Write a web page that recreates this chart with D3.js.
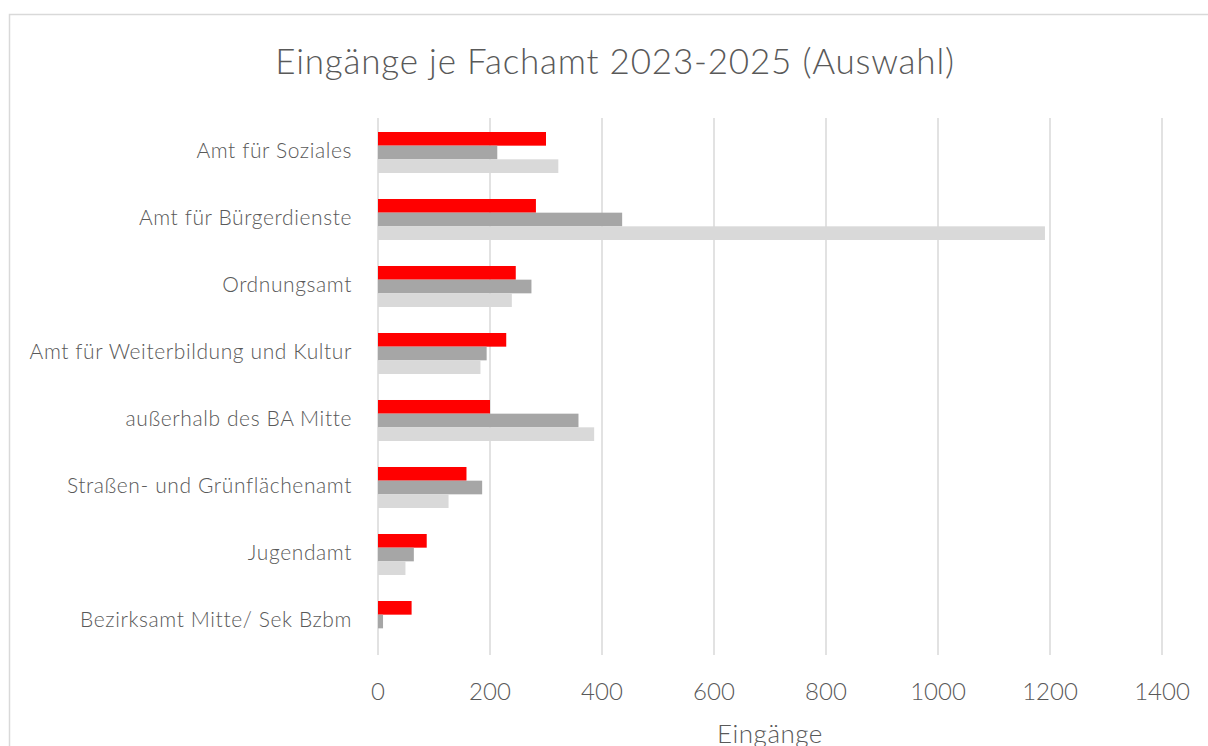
<!DOCTYPE html>
<html>
<head>
<meta charset="utf-8">
<script src="https://cdn.jsdelivr.net/npm/d3@7"></script>
<style>
  html, body { margin: 0; padding: 0; background: #fff; overflow: hidden; }
  svg { display: block; }
  text { font-family: Lato, "Noto Sans", sans-serif; font-weight: 300; fill: #595959; }
</style>
</head>
<body>
<svg id="chart" width="1208" height="746"></svg>
<script>
const categories = [
  "Amt für Soziales",
  "Amt für Bürgerdienste",
  "Ordnungsamt",
  "Amt für Weiterbildung und Kultur",
  "außerhalb des BA Mitte",
  "Straßen- und Grünflächenamt",
  "Jugendamt",
  "Bezirksamt Mitte/ Sek Bzbm"
];
const seriesNames = ["2025", "2024", "2023"];
const values2025 = [300, 282, 246, 229, 200, 158, 87, 60];
const values2024 = [213, 436, 274, 194, 358, 186, 64, 9];
const values2023 = [322, 1191, 239, 183, 386, 126, 49, 0];
const seriesColors = ["#ff0000", "#a6a6a6", "#d9d9d9"];
const xTicks = [0, 200, 400, 600, 800, 1000, 1200, 1400];
const titleText = "Eingänge je Fachamt 2023-2025 (Auswahl)";
const xAxisTitle = "Eingänge";

const seriesValues = [values2025, values2024, values2023];

const svg = d3.select("#chart");

// outer border
svg.append("rect")
  .attr("x", 9.5).attr("y", 14.5)
  .attr("width", 1220).attr("height", 760)
  .attr("fill", "#fff").attr("stroke", "#d9d9d9").attr("stroke-width", 1.5);

const x = d3.scaleLinear().domain([0, 1400]).range([378, 1162]);
const y = d3.scaleBand().domain(categories).range([119, 655])
  .paddingInner(0.388).paddingOuter(0.194);
const ySub = d3.scaleBand().domain(seriesNames).range([0, y.bandwidth()]);

// gridlines
svg.append("g").selectAll("line").data(xTicks).join("line")
  .attr("x1", d => x(d)).attr("x2", d => x(d))
  .attr("y1", 118).attr("y2", 655)
  .attr("stroke", "#d9d9d9").attr("stroke-width", 1.5);

// bars
const groups = svg.append("g").selectAll("g").data(categories).join("g")
  .attr("transform", d => `translate(0,${y(d)})`);
groups.selectAll("rect")
  .data((c, i) => seriesNames.map((s, j) => ({ s, v: seriesValues[j][i], color: seriesColors[j] })))
  .join("rect")
  .attr("x", x(0))
  .attr("y", d => ySub(d.s))
  .attr("width", d => x(d.v) - x(0))
  .attr("height", ySub.bandwidth())
  .attr("fill", d => d.color);

// category labels
svg.append("g").selectAll("text").data(categories).join("text")
  .attr("x", 352).attr("y", d => y(d) + y.bandwidth() / 2 + 5.5)
  .attr("text-anchor", "end")
  .attr("font-size", 21)
  .attr("letter-spacing", 0.6)
  .text(d => d);

// x tick labels
svg.append("g").selectAll("text").data(xTicks).join("text")
  .attr("x", d => x(d)).attr("y", 700)
  .attr("text-anchor", "middle")
  .attr("font-size", 24)
  .text(d => d);

// axis title
svg.append("text")
  .attr("x", 770).attr("y", 743)
  .attr("text-anchor", "middle")
  .attr("font-size", 26)
  .attr("letter-spacing", 0.5)
  .text(xAxisTitle);

// title
svg.append("text")
  .attr("x", 615).attr("y", 74)
  .attr("text-anchor", "middle")
  .attr("font-size", 35)
  .attr("letter-spacing", 0.8)
  .text(titleText);
</script>
</body>
</html>
